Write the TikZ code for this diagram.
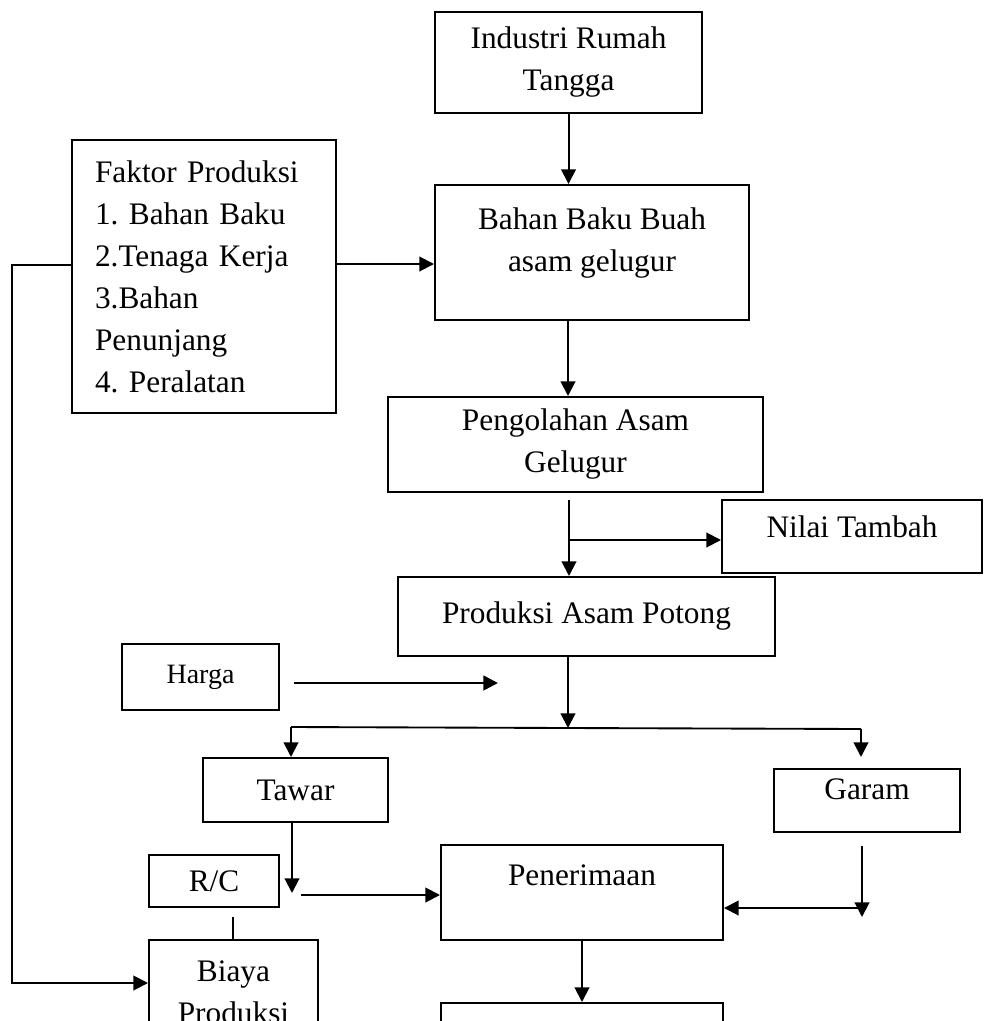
\documentclass[tikz,border=0pt]{standalone}
\usepackage{fontspec}
\setmainfont{Liberation Serif}
\usetikzlibrary{arrows.meta}
\frenchspacing
\tikzset{
  box/.style={draw, line width=1.5pt, inner sep=0pt, align=center},
  flow/.style={line width=1.5pt, -{Triangle[length=11pt,width=11pt]}},
  link/.style={line width=1.4pt},
}
\begin{document}
\begin{tikzpicture}[x=0.75pt,y=-0.75pt]
  \fontsize{23.5}{31.5}\selectfont
  \useasboundingbox (0,0) rectangle (984,1021);
  \clip (0,0) rectangle (984,1021);

  % boxes
  \node[box, minimum width=200.25pt, minimum height=75.75pt] (ind) at (568.5,62.5) {Industri Rumah\\Tangga};
  \node[box, minimum width=198pt, minimum height=204.75pt, text width=163.5pt, align=left] (fak) at (204,276.5)
    {Faktor Produksi\\1. Bahan Baku\\2.Tenaga Kerja\\3.Bahan\\Penunjang\\4. Peralatan};
  \node[box, minimum width=235.5pt, minimum height=101.25pt, text depth=20pt] (bahan) at (592,252.5) {Bahan Baku Buah\\asam gelugur};
  \node[box, minimum width=281.25pt, minimum height=71.25pt] (olah) at (575.5,444.5) {Pengolahan Asam\\Gelugur};
  \node[box, minimum width=195pt, minimum height=54.75pt, text height=16pt, text depth=15pt] (nilai) at (852,536.5) {Nilai Tambah};
  \node[box, minimum width=282.75pt, minimum height=59.25pt] (prod) at (586.5,616.5) {Produksi Asam Potong};
  \node[box, minimum width=117.75pt, minimum height=49.5pt, font=\fontsize{21}{28}\selectfont] (harga) at (200.5,677) {Harga};
  \node[box, minimum width=138.75pt, minimum height=48pt] (tawar) at (295.5,790) {Tawar};
  \node[box, minimum width=139.5pt, minimum height=47.25pt, text height=16pt, text depth=17pt] (garam) at (867,800.5) {Garam};
  \node[box, minimum width=97.5pt, minimum height=39pt] (rc) at (214,881) {R/C};
  \node[box, minimum width=211.5pt, minimum height=71.25pt, text height=16pt, text depth=27pt] (pener) at (582,892.5) {Penerimaan};
  \node[box, minimum width=126.75pt, minimum height=78pt] (biaya) at (233.5,992) {Biaya\\Produksi};
  \node[box, minimum width=211.5pt, minimum height=60pt] (hasil) at (582,1043) {};

  % free ends
  \coordinate (fb) at (336,264);
  \coordinate (bo) at (568,320);
  \coordinate (op) at (569,500);
  \coordinate (on) at (569,540);
  \coordinate (sL) at (291,727);
  \coordinate (sM) at (568,728);
  \coordinate (sR) at (861,729);
  \coordinate (gT) at (861,757);
  \coordinate (hA) at (294,683);
  \coordinate (hB) at (498,683);
  \coordinate (tD) at (292,893);
  \coordinate (tP) at (301,895);
  \coordinate (gA) at (862,846);
  \coordinate (gB) at (862,917);
  \coordinate (gC) at (862,908);
  \coordinate (rb) at (233,917);
  \coordinate (lp) at (12,265);
  \coordinate (lq) at (12,983);

  % connectors
  \draw[flow] (ind.south) -- (ind.south |- bahan.north);
  \draw[flow] (fb) -- (fb -| bahan.west);
  \draw[flow] (bo) -- (bo |- olah.north);
  \draw[flow] (op) -- (op |- prod.north);
  \draw[flow] (on) -- (on -| nilai.west);
  \draw[flow] (sM |- prod.south) -- (sM);
  \draw[link] (sL) -- (sM) -- (sR);
  \draw[flow] (sL) -- (sL |- tawar.north);
  \draw[flow] (sR) -- (gT);
  \draw[flow, line width=2pt] (hA) -- (hB);
  \draw[flow] (tD |- tawar.south) -- (tD);
  \draw[flow] (tP) -- (tP -| pener.west);
  \draw[flow] (gA) -- (gB);
  \draw[flow] (gC) -- (gC -| pener.east);
  \draw[link] (rb) -- (rb |- biaya.north);
  \draw[flow] (lp -| fak.west) -- (lp) -- (lq) -- (lq -| biaya.west);
  \draw[flow] (pener.south) -- (hasil.north);
\end{tikzpicture}
\end{document}
